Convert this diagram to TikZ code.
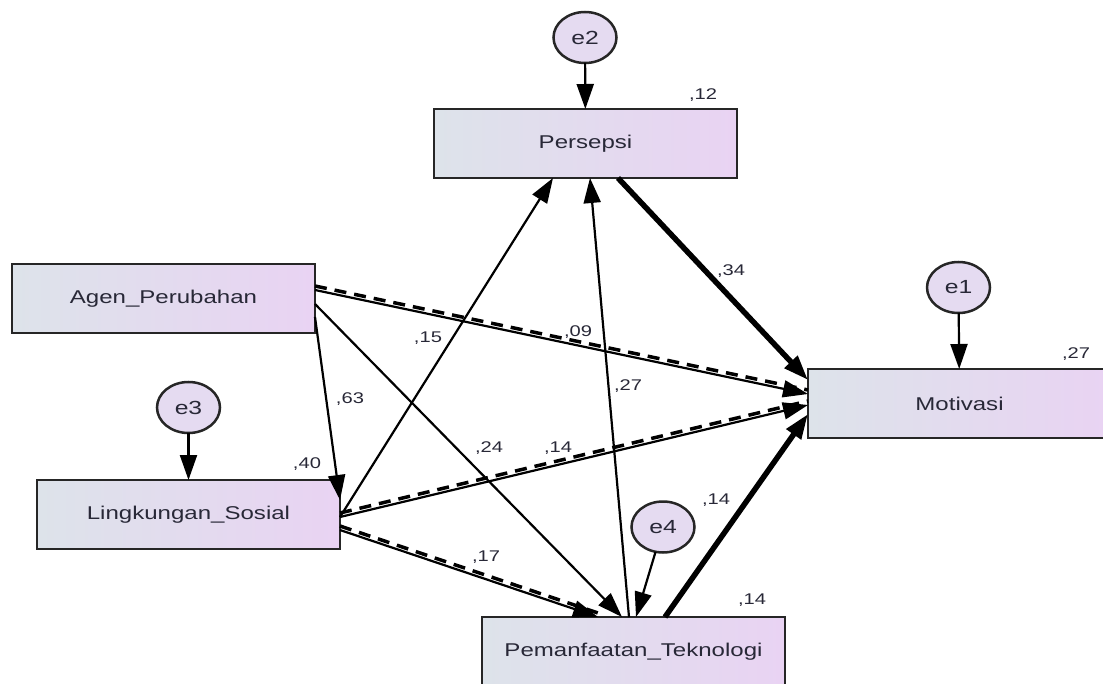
\documentclass[tikz,border=0pt]{standalone}
\usepackage{fontspec}
\setmainfont{Liberation Sans}
\usepackage{graphicx}
\usetikzlibrary{arrows.meta,shapes.geometric}

\definecolor{boxleft}{RGB}{221,227,234}
\definecolor{boxright}{RGB}{233,211,243}
\definecolor{errfill}{RGB}{229,219,241}
\definecolor{txt}{RGB}{40,40,55}

\newcommand{\wide}[1]{\scalebox{1.3}[1]{#1}}

\tikzset{
  var/.style={draw=black!85,line width=2.8pt,left color=boxleft,right color=boxright,
    minimum width=303pt,minimum height=69pt,inner sep=0pt,outer sep=0pt,
    font=\fontsize{18.5}{20}\selectfont,text=txt},
  err/.style={ellipse,draw=black!85,line width=2.5pt,fill=errfill,
    minimum width=63pt,minimum height=51pt,inner sep=0pt,outer sep=0pt,
    font=\fontsize{19}{20}\selectfont,text=txt},
  coef/.style={font=\fontsize{15.5}{16}\selectfont,text=txt,inner sep=0pt},
  arr/.style={->,line width=2.2pt},
  strong/.style={->,line width=5.5pt},
  dashpair/.style={postaction={draw,-,dash pattern=on 12pt off 8pt,line width=3.5pt,
    transform canvas={yshift=4pt}}}
}

\begin{document}
\begin{tikzpicture}[x=1pt,y=1pt,>={Triangle[length=25pt,width=17pt]}]
\useasboundingbox (0,0) rectangle (1103,-684);

% observed variables
\node[var] (agen)   at (163.5,-298.5) {\wide{Agen\_Perubahan}};
\node[var] (lingk)  at (188.5,-514.5) {\wide{Lingkungan\_Sosial}};
\node[var] (pers)   at (585.5,-143.5) {\wide{Persepsi}};
\node[var] (motiv)  at (959.5,-403.5) {\wide{Motivasi}};
\node[var] (pemanf) at (633.5,-651.5) {\wide{Pemanfaatan\_Teknologi}};

% error terms
\node[err] (e2) at (585,-37.5)   {\wide{e2}};
\node[err] (e1) at (958.5,-287.5) {\wide{e1}};
\node[err] (e3) at (188.5,-407.5) {\wide{e3}};
\node[err] (e4) at (663,-527)    {\wide{e4}};

\path[arr]
  (e2) edge (pers)
  (e1) edge (motiv)
  (e3) edge (lingk)
  (e4) edge ([xshift=154pt]pemanf.north west)
  ([yshift=-53pt]agen.north east) edge ([yshift=-20pt]lingk.north east)
  ([yshift=-40pt]agen.north east) edge ([xshift=140pt]pemanf.north west)
  ([yshift=-37pt]lingk.north east) edge ([xshift=119pt]pers.south west)
  ([xshift=147pt]pemanf.north west) edge ([xshift=156pt]pers.south west);

\draw[arr,dashpair] ([yshift=-26pt]agen.north east) -- ([yshift=-25pt]motiv.north west);
\draw[arr,dashpair] ([yshift=-37pt]lingk.north east) -- ([yshift=-36pt]motiv.north west);
\draw[arr,dashpair] ([yshift=-50pt]lingk.north east) -- ([xshift=116pt]pemanf.north west);

\draw[strong] ([xshift=184pt]pers.south west) -- ([yshift=-11pt]motiv.north west);
\draw[strong] ([xshift=183pt]pemanf.north west) -- ([yshift=-45pt]motiv.north west);

% estimates
\node[coef] (r2pers)   at (703,-95)   {\wide{,12}};
\node[coef] (r2motiv)  at (1076,-354) {\wide{,27}};
\node[coef] (r2lingk)  at (307,-464)  {\wide{,40}};
\node[coef] (r2pemanf) at (752,-600)  {\wide{,14}};
\node[coef] (bPM)  at (731,-271) {\wide{,34}};
\node[coef] (bAM)  at (578,-332) {\wide{,09}};
\node[coef] (bLP)  at (428,-338) {\wide{,15}};
\node[coef] (bAL)  at (350,-399) {\wide{,63}};
\node[coef] (bTP)  at (628,-386) {\wide{,27}};
\node[coef] (bAT)  at (489,-448) {\wide{,24}};
\node[coef] (bLM)  at (558,-448) {\wide{,14}};
\node[coef] (bTM)  at (716,-500) {\wide{,14}};
\node[coef] (bLT)  at (486,-557) {\wide{,17}};

\end{tikzpicture}
\end{document}
